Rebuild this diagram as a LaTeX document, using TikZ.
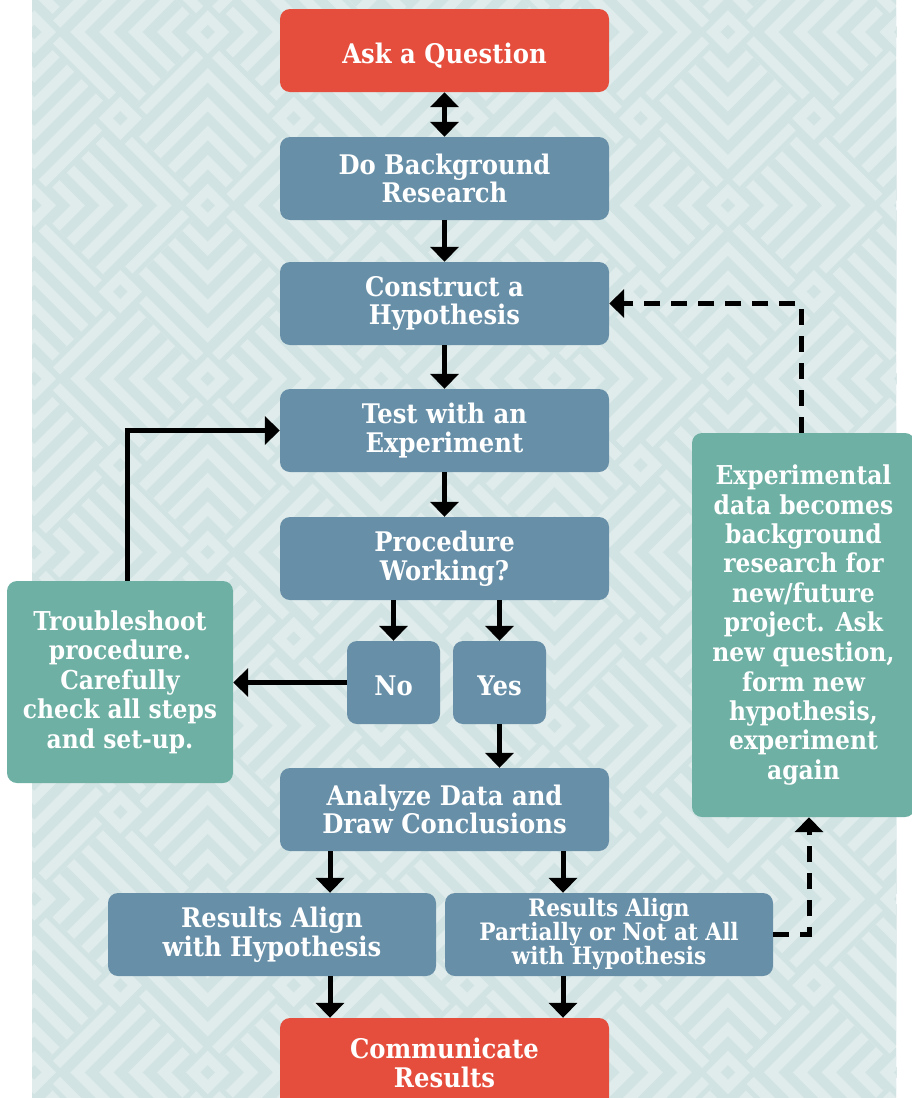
\documentclass[tikz,border=0pt]{standalone}
\usepackage{fontspec}
\usetikzlibrary{arrows.meta,calc}
\newfontfamily\bxf{DejaVu Serif}[FakeStretch=0.9]
\definecolor{bgdark}{RGB}{210,227,227}
\definecolor{bglite}{RGB}{224,236,236}
\definecolor{redbox}{RGB}{229,78,61}
\definecolor{bluebox}{RGB}{103,143,168}
\definecolor{greenbox}{RGB}{110,176,164}
\newcommand\myrings[2]{%
  \foreach \k in {5,4,3,2,1,0}{%
    \pgfmathsetmacro\ra{21.7+28.9*\k}%
    \pgfmathsetmacro\rb{7.2+28.9*\k}%
    \fill[bglite] (#1-\ra,#2) -- (#1,#2-\ra) -- (#1+\ra,#2) -- (#1,#2+\ra) -- cycle;
    \fill[bgdark] (#1-\rb,#2) -- (#1,#2-\rb) -- (#1+\rb,#2) -- (#1,#2+\rb) -- cycle;
  }}
\newcommand\mysmall[2]{%
  \fill[bgdark] (#1-30,#2) -- (#1,#2-30) -- (#1+30,#2) -- (#1,#2+30) -- cycle;
  \fill[bglite] (#1-21.7,#2) -- (#1,#2-21.7) -- (#1+21.7,#2) -- (#1,#2+21.7) -- cycle;
  \fill[bgdark] (#1-7.2,#2) -- (#1,#2-7.2) -- (#1+7.2,#2) -- (#1,#2+7.2) -- cycle;
}
\tikzset{
  boxbase/.style={rounded corners=10pt, inner sep=0pt, align=center, text=white,
    font=\bxf\bfseries\fontsize{27}{28.5}\selectfont},
  redb/.style={boxbase, fill=redbox, minimum width=329pt, minimum height=83pt},
  blueb/.style={boxbase, fill=bluebox, minimum width=329pt, minimum height=83pt},
  smallb/.style={boxbase, fill=bluebox, minimum width=93pt, minimum height=83pt},
  oneline/.style={text height=26pt, text depth=0pt},
  greenb/.style={boxbase, fill=greenbox, font=\bxf\bfseries\fontsize{26}{29.5}\selectfont},
  arr/.style={line width=5pt, -{Triangle[length=15pt,width=28pt]}},
  darr/.style={arr, dash pattern=on 16pt off 11pt},
}
\begin{document}
\begin{tikzpicture}[x=1pt,y=-1pt]
\useasboundingbox (0,0) rectangle (911,1098);
\fill[white] (0,0) rectangle (911,1098);
% background pattern
\begin{scope}
\clip (32,0) rectangle (896,1098);
\fill[bgdark] (32,0) rectangle (896,1098);
\foreach \i in {-1,...,6}{\foreach \j in {-1,...,7}{%
  \pgfmathsetmacro\cx{34.3+173.4*\i}%
  \pgfmathsetmacro\cy{32+173.4*\j}%
  \pgfmathtruncatemacro\parity{mod(\i+\j+20,2)}%
  \begin{scope}
  \ifnum\parity=0
    \clip (\cx,\cy) -- (\cx-86.7,\cy-86.7) -- (\cx,\cy-173.4) -- (\cx+86.7,\cy-86.7) -- (\cx,\cy) -- (\cx-86.7,\cy+86.7) -- (\cx,\cy+173.4) -- (\cx+86.7,\cy+86.7) -- cycle;
  \else
    \clip (\cx,\cy) -- (\cx-86.7,\cy-86.7) -- (\cx-173.4,\cy) -- (\cx-86.7,\cy+86.7) -- (\cx,\cy) -- (\cx+86.7,\cy-86.7) -- (\cx+173.4,\cy) -- (\cx+86.7,\cy+86.7) -- cycle;
  \fi
  \myrings{\cx}{\cy}
  \end{scope}
}}
\foreach \i in {-1,...,6}{\foreach \j in {-1,...,7}{%
  \pgfmathsetmacro\cx{34.3+173.4*\i}%
  \pgfmathsetmacro\cy{32+173.4*\j}%
  \mysmall{\cx}{\cy}
  \pgfmathsetmacro\dx{120.3+173.4*\i}%
  \pgfmathsetmacro\dy{118.3+173.4*\j}%
  \mysmall{\dx}{\dy}
}}
\end{scope}
% nodes
\node[redb, oneline] (ask) at (444.5,50.5) {Ask a Question};
\node[blueb] (bg) at (444.5,178.5) {Do Background\\Research};
\node[blueb] (hyp) at (444.5,303.5) {Construct a\\Hypothesis};
\node[blueb] (test) at (444.5,430.5) {Test with an\\Experiment};
\node[blueb] (proc) at (444.5,558.5) {Procedure\\Working?};
\node[smallb, oneline] (no) at (393.5,682.5) {No};
\node[smallb, oneline] (yes) at (499.5,682.5) {Yes};
\node[blueb] (ana) at (444.5,809.5) {Analyze Data and\\Draw Conclusions};
\node[blueb, minimum width=328pt] (r1) at (272,934.5) {Results Align\\with Hypothesis};
\node[blueb, minimum width=328pt, font=\bxf\bfseries\fontsize{24}{24}\selectfont] (r2) at (609,934.5) {Results Align\\Partially or Not at All\\with Hypothesis};
\node[redb, minimum height=90pt] (comm) at (444.5,1063) {Communicate\\Results};
\node[greenb, minimum width=226pt, minimum height=202pt] (trouble) at (120,682) {Troubleshoot\\procedure.\\Carefully\\check all steps\\and set-up.};
\node[greenb, minimum width=223pt, minimum height=384pt] (exp) at (803.5,625) {Experimental\\data becomes\\background\\research for\\new/future\\project. Ask\\new question,\\form new\\hypothesis,\\experiment\\again};
% connectors
\coordinate (xa) at (330,0);
\coordinate (xb) at (563,0);
\coordinate (xt) at (127,0);
\coordinate (xd) at (809,0);
\coordinate (xe) at (801,0);
\draw[line width=5pt, {Triangle[length=15pt,width=28pt]}-{Triangle[length=15pt,width=28pt]}] (ask.south) -- (bg.north);
\draw[arr] (bg.south) -- (hyp.north);
\draw[arr] (hyp.south) -- (test.north);
\draw[arr] (test.south) -- (proc.north);
\draw[arr] (no.north |- proc.south) -- (no.north);
\draw[arr] (yes.north |- proc.south) -- (yes.north);
\draw[arr] (no.west) -- (no.west -| trouble.east);
\draw[arr] (xt |- trouble.north) |- (test.west);
\draw[arr] (yes.south) -- (yes.south |- ana.north);
\draw[arr] (xa |- ana.south) -- (xa |- r1.north);
\draw[arr] (xb |- ana.south) -- (xb |- r2.north);
\draw[arr] (xa |- r1.south) -- (xa |- comm.north);
\draw[arr] (xb |- r2.south) -- (xb |- comm.north);
\draw[darr] (r2.east) -| (xd |- exp.south);
\draw[darr] (xe |- exp.north) |- (hyp.east);
\end{tikzpicture}
\end{document}
